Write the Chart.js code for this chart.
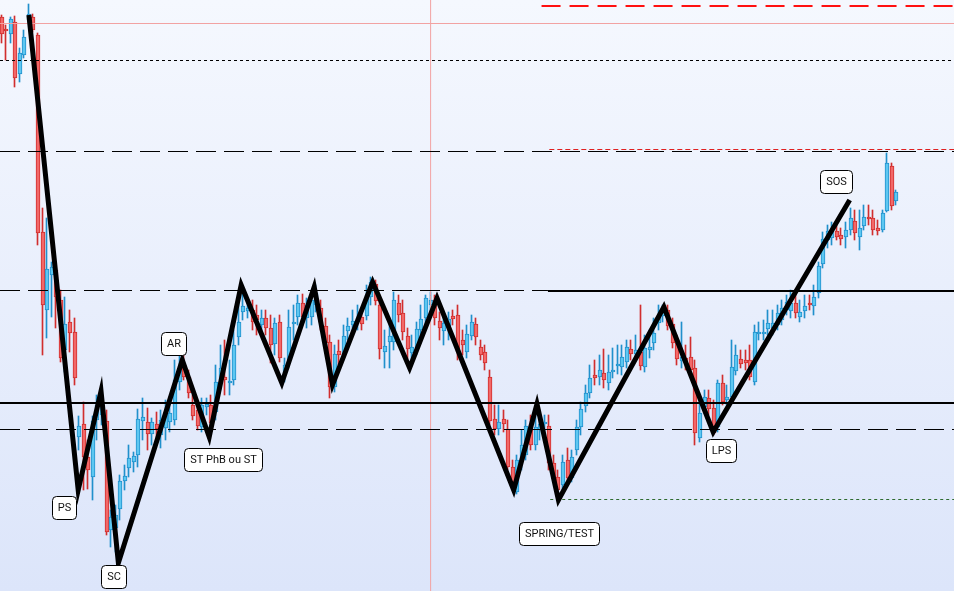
<!DOCTYPE html>
<html>
<head>
<meta charset="utf-8">
<script src="https://cdn.jsdelivr.net/npm/chart.js@4"></script>
<style>
html, body { margin: 0; padding: 0; }
body { width: 954px; height: 591px; overflow: hidden; background: linear-gradient(#f5f8fe, #dce5fa); }
canvas { display: block; }
</style>
</head>
<body>
<canvas id="wyckoffChart" width="954" height="591"></canvas>
<script>
// candles (oldest -> newest)
const opens = [
  583,571,566,578,526,545,580,583,565,368,
  290,325,330,300,250,278,268,163,176,143,
  123,180,185,179,70,72,91,119,132,138,
  145,179,178,166,176,165,172,178,180,218,
  234,223,195,190,173,193,195,188,220,223,
  217,220,263,288,289,290,285,275,282,272,
  256,278,227,240,276,283,297,282,283,295,
  292,274,258,213,249,245,269,275,278,283,
  284,303,316,295,248,258,258,297,287,264,
  247,252,270,282,295,300,279,269,274,284,
  285,260,248,264,276,253,248,223,181,171,
  181,171,133,108,140,145,174,155,170,176,
  174,137,123,115,140,122,150,173,194,207,
  225,223,227,217,228,234,233,238,251,246,
  248,233,250,257,277,284,290,276,257,239,
  242,243,232,162,193,202,192,173,217,200,
  203,229,241,240,240,218,266,266,271,272,
  275,280,290,289,297,283,289,297,294,307,
  336,360,362,369,365,363,370,379,363,374,
  383,382,372,370,389,434,399
];
const highs = [
  585,575,583,584,552,570,596,586,567,392,
  382,338,338,310,303,290,282,184,198,160,
  184,205,202,190,90,95,125,135,155,148,
  191,202,192,182,188,190,200,200,240,248,
  248,230,205,198,202,202,205,235,255,260,
  240,270,300,308,302,300,295,290,290,285,
  282,285,242,290,295,305,306,302,308,315,
  300,282,265,255,260,275,282,290,295,290,
  315,323,320,305,270,282,308,305,300,272,
  265,278,295,305,308,305,288,285,288,290,
  295,270,275,285,282,260,255,230,195,195,
  190,180,140,145,170,180,185,190,185,185,
  185,145,130,145,152,150,180,198,215,235,
  240,245,251,245,252,255,255,260,260,265,
  295,265,270,282,295,295,295,282,265,278,
  255,263,240,202,210,210,200,220,225,215,
  260,255,250,250,255,275,278,280,290,290,
  295,300,305,310,310,300,305,305,315,338,
  368,375,378,375,372,378,392,390,390,395,
  395,390,380,390,447,437,410
];
const lows = [
  557,540,557,513,518,542,576,568,355,245,
  262,283,272,238,228,248,215,150,110,111,
  100,160,175,65,53,48,80,110,123,128,
  133,160,150,155,155,152,160,168,175,210,
  220,202,180,170,168,185,168,180,210,205,
  205,215,255,280,282,270,265,265,265,237,
  245,238,218,232,260,275,275,272,275,288,
  270,250,202,208,235,240,260,268,270,270,
  280,295,295,241,232,232,250,278,260,241,
  238,245,262,275,285,275,260,255,260,275,
  240,245,242,260,255,240,230,175,165,165,
  168,130,115,106,130,140,150,150,160,168,
  130,120,103,108,120,118,145,165,188,202,
  215,215,212,210,222,226,225,232,240,240,
  230,228,242,250,270,278,270,252,235,232,
  230,225,155,158,188,185,165,168,195,195,
  200,225,232,230,220,215,260,260,265,265,
  270,275,285,282,282,278,282,290,285,302,
  332,352,355,360,355,352,365,360,350,370,
  375,365,365,368,388,390,395
];
const closes = [
  566,569,581,522,547,563,586,570,367,295,
  331,333,303,242,276,267,222,174,143,130,
  179,195,198,68,83,85,119,124,142,144,
  181,183,166,178,171,180,188,187,220,232,
  223,207,184,174,195,196,177,218,232,220,
  219,255,278,294,292,278,280,282,272,255,
  277,242,235,273,278,297,283,295,300,307,
  277,257,213,246,245,264,274,279,282,276,
  305,318,299,251,254,264,300,285,268,251,
  253,271,281,302,300,282,272,277,281,281,
  248,255,266,278,263,245,237,179,171,178,
  176,133,118,140,155,174,155,173,176,178,
  137,123,110,138,122,143,173,191,207,222,
  222,230,220,228,230,236,243,253,246,250,
  234,252,253,267,284,290,274,257,241,243,
  238,230,167,187,203,191,167,217,198,203,
  233,245,236,237,223,268,268,268,277,277,
  287,292,298,297,287,288,294,295,303,334,
  361,369,370,363,361,370,382,367,372,383,
  381,370,369,387,437,394,408
];

// Wyckoff swing line (candle index, price)
const zigzagX = [6, 16.8, 21.8, 25.6, 39.6, 45.5, 52.5, 61.4, 68.5, 72.5, 81.3, 89.4, 95.4, 112.2, 117.3, 122, 145.1, 155.9, 185.8];
const zigzagY = [585, 110, 209, 37, 240, 163, 315, 217, 313, 215, 318, 232, 302, 110, 196, 100, 293, 168, 400];

// phase labels
const labelTexts = ["PS", "SC", "AR", "ST PhB ou ST", "SPRING/TEST", "LPS", "SOS"];
const labelX = [13.6, 24.6, 37.6, 48.5, 122.1, 157.7, 182.8];
const labelY = [93, 24, 256.5, 141, 67, 149.5, 418.5];

// horizontal levels: price, first index, last index (null = chart edge)
const levelPrices = [594, 576.5, 539.5, 450.5, 448.5, 309.5, 309, 197, 170.5, 100.5];
const levelFrom = [118.3, null, null, 120, null, null, 119.7, null, null, 120.2];
const levelTo = [null, null, null, null, null, 119.7, null, null, null, null];
const cursorIndex = 94;

const xMin = -0.33, xMax = 208.65, yMin = 9, yMax = 600;

const levelStyles = [
  { color: "#ff1010", width: 2, dash: [19, 9] },
  { color: "#f2a2a2", width: 1, dash: [] },
  { color: "#000", width: 1, dash: [3, 3] },
  { color: "#e02020", width: 1, dash: [5, 3] },
  { color: "#000", width: 1, dash: [20, 8] },
  { color: "#000", width: 1, dash: [20, 8] },
  { color: "#000", width: 2, dash: [] },
  { color: "#000", width: 2, dash: [] },
  { color: "#000", width: 1, dash: [20, 8] },
  { color: "#2f6b2f", width: 1, dash: [3, 3] }
];

const idx = opens.map((_, i) => i);
const up = idx.map(i => closes[i] >= opens[i]);
const bodyFill = up.map(u => u ? "#5dc7f1" : "#f26868");
const bodyLine = up.map(u => u ? "#2090cc" : "#d12e2e");

const levelSets = levelPrices.map((p, k) => ({
  type: "line",
  data: [
    { x: levelFrom[k] ?? xMin, y: p },
    { x: levelTo[k] ?? xMax, y: p }
  ],
  borderColor: levelStyles[k].color,
  borderWidth: levelStyles[k].width,
  borderDash: levelStyles[k].dash,
  pointRadius: 0,
  fill: false,
  order: 1
}));

// snap candle bars to whole pixels so bodies and wicks stay crisp
const snapPlugin = {
  id: "snapCandles",
  beforeDatasetsDraw(chart) {
    chart.data.datasets.forEach((ds, i) => {
      if (!ds.candlePart) return;
      chart.getDatasetMeta(i).data.forEach(el => {
        const px = Math.round(el.x);
        el.x = ds.candlePart === "wick" ? px - 0.5 : px;
      });
    });
  }
};

const labelPlugin = {
  id: "wyckoffLabels",
  afterDraw(chart) {
    const { ctx, scales: { x, y } } = chart;
    ctx.save();
    ctx.font = "11px Roboto, 'Liberation Sans', sans-serif";
    ctx.textAlign = "center";
    ctx.textBaseline = "middle";
    labelTexts.forEach((text, k) => {
      const cx = x.getPixelForValue(labelX[k]);
      const cy = y.getPixelForValue(labelY[k]);
      const w = Math.round(ctx.measureText(text).width) + 11;
      const h = 23;
      const left = Math.round(cx - w / 2) + 0.5;
      const top = Math.round(cy - h / 2) + 0.5;
      ctx.beginPath();
      ctx.roundRect(left, top, w, h, 4);
      ctx.fillStyle = "#fff";
      ctx.fill();
      ctx.strokeStyle = "#000";
      ctx.lineWidth = 1;
      ctx.stroke();
      ctx.fillStyle = "#111";
      ctx.fillText(text, left + w / 2, top + h / 2 + 0.5);
    });
    ctx.restore();
  }
};

const ctx = document.getElementById("wyckoffChart").getContext("2d");
new Chart(ctx, {
  type: "bar",
  data: {
    datasets: [
      {
        type: "line",
        data: zigzagX.map((x, k) => ({ x: x, y: zigzagY[k] })),
        borderColor: "#000",
        borderWidth: 5,
        borderJoinStyle: "miter",
        pointRadius: 0,
        tension: 0,
        fill: false,
        order: 0
      },
      ...levelSets,
      {
        type: "line",
        data: [{ x: cursorIndex, y: yMin }, { x: cursorIndex, y: yMax }],
        borderColor: "#f2a2a2",
        borderWidth: 1,
        pointRadius: 0,
        fill: false,
        order: 1
      },
      {
        candlePart: "body",
        data: idx.map(i => ({ x: i, y: [opens[i], closes[i]] })),
        backgroundColor: bodyFill,
        borderColor: bodyLine,
        borderWidth: 1,
        borderSkipped: false,
        barThickness: 4,
        grouped: false,
        order: 2
      },
      {
        candlePart: "wick",
        data: idx.map(i => ({ x: i, y: [lows[i], highs[i]] })),
        backgroundColor: bodyLine,
        borderWidth: 0,
        barThickness: 1,
        grouped: false,
        order: 3
      }
    ]
  },
  options: {
    responsive: false,
    animation: false,
    devicePixelRatio: 1,
    layout: { padding: 0 },
    plugins: { legend: { display: false }, tooltip: { enabled: false } },
    scales: {
      x: { type: "linear", min: xMin, max: xMax, offset: false, display: false },
      y: { min: yMin, max: yMax, display: false }
    }
  },
  plugins: [snapPlugin, labelPlugin]
});
</script>
</body>
</html>
